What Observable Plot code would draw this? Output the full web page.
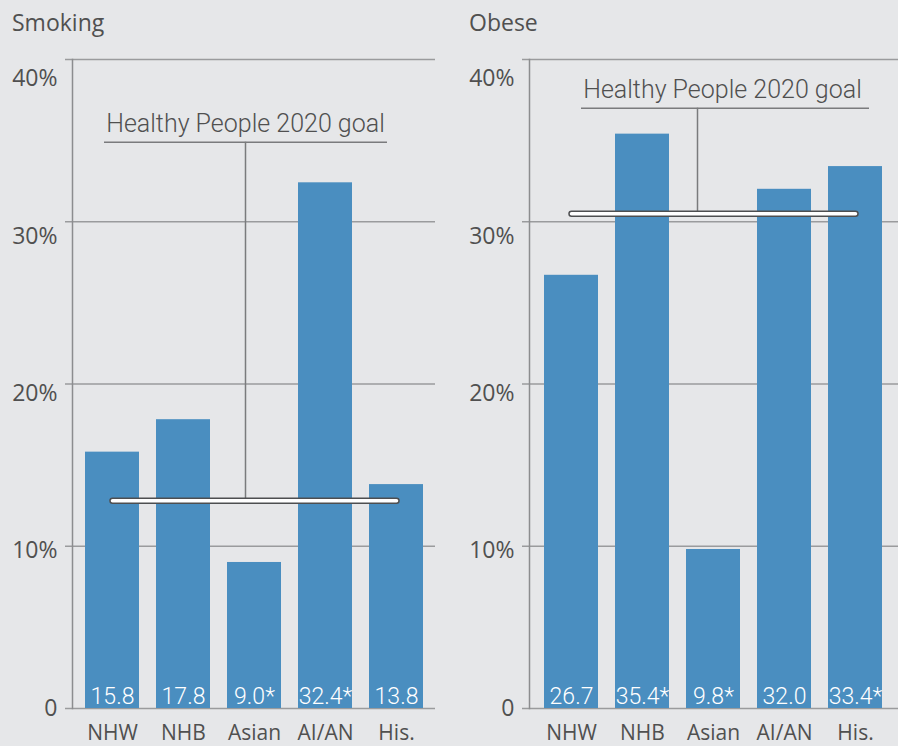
<!DOCTYPE html>
<html><head><meta charset="utf-8">
<script src="https://cdn.jsdelivr.net/npm/d3@7"></script>
<script src="https://cdn.jsdelivr.net/npm/@observablehq/plot@0.6"></script>
<style>
html,body{margin:0;padding:0;background:#e6e7e9;}
#wrap{position:relative;width:898px;height:746px;overflow:hidden;font-family:"Open Sans",sans-serif;}
.panel{position:absolute;top:0;width:449px;height:746px;}
.title{position:absolute;top:6px;font-size:23px;color:#505050;line-height:normal;}
.panel svg{position:absolute;top:40px;left:0;}
</style></head><body><div id="wrap"></div>
<script>
const groups = ["NHW", "NHB", "Asian", "AI/AN", "His."];
const smokingValues = [15.8, 17.8, 9.0, 32.4, 13.8];
const smokingLabels = ["15.8", "17.8", "9.0*", "32.4*", "13.8"];
const obeseValues = [26.7, 35.4, 9.8, 32.0, 33.4];
const obeseLabels = ["26.7", "35.4*", "9.8*", "32.0", "33.4*"];
const panelTitles = ["Smoking", "Obese"];
const goalValues = [12.8, 30.5];
const goalText = "Healthy People 2020 goal";
const yTicks = [0, 10, 20, 30, 40];

const TEXT = "#505050";
const GRID = "#9a9b9d";
const BAR = "#4a8ec0";

function panel(cfg) {
  const data = groups.map((g, i) => ({group: g, value: cfg.values[i], label: cfg.labels[i]}));
  const goalData = [{group: groups[0], y: cfg.goal}, {group: groups[groups.length - 1], y: cfg.goal}];
  const annoData = [{group: groups[2], text: goalText}];
  return Plot.plot({
    width: 449, height: 706,
    marginTop: 19, marginBottom: 38, marginLeft: cfg.marginLeft, marginRight: cfg.marginRight,
    style: {background: "transparent", fontFamily: "Open Sans", color: TEXT, overflow: "visible"},
    x: {domain: groups, paddingInner: 0.24, paddingOuter: cfg.paddingOuter, axis: null},
    y: {domain: [0, 40], axis: null},
    marks: [
      Plot.ruleY(yTicks, {stroke: GRID, strokeWidth: 1.5, insetLeft: -7, insetRight: -cfg.gridExtend}),
      Plot.frame({anchor: "left", stroke: "#8c8d8f", strokeWidth: 1.5}),
      Plot.barY(data, {x: "group", y: "value", fill: BAR}),
      Plot.text(data, {x: "group", y: 0, text: "label", fill: "white", fontSize: 23, fontWeight: 300, fontFamily: "Roboto", lineAnchor: "bottom", dy: -5}),
      Plot.ruleX(annoData, {x: "group", y1: cfg.goal, y2: cfg.annoY, stroke: "#7a7b7d", strokeWidth: 1.5, dx: cfg.stemDx}),
      Plot.ruleY([cfg.annoY], {stroke: "#7a7b7d", strokeWidth: 1.5, insetLeft: cfg.annoInsetL, insetRight: cfg.annoInsetR}),
      Plot.text(annoData, {x: "group", y: cfg.annoY, text: "text", dx: cfg.textDx, dy: -10, lineAnchor: "bottom", fontSize: 25, fontWeight: 300, fontFamily: "Roboto", fill: TEXT}),
      Plot.line(goalData, {x: "group", y: "y", stroke: "#4d4e50", strokeWidth: 6.5, strokeLinecap: "round"}),
      Plot.line(goalData, {x: "group", y: "y", stroke: "white", strokeWidth: 3.5, strokeLinecap: "round"}),
      Plot.text(yTicks, {y: d => d * 0.97, text: d => d === 0 ? "0" : d + "%", frameAnchor: "left", textAnchor: "end", dx: -15, fontSize: 23, fill: TEXT}),
      Plot.text(groups, {x: d => d, frameAnchor: "bottom", lineAnchor: "top", dy: 17, fontSize: 21, fill: TEXT})
    ]
  });
}

const configs = [
  {title: panelTitles[0], values: smokingValues, labels: smokingLabels, goal: goalValues[0],
   annoY: 34.9, annoInsetL: 32, annoInsetR: 48, stemDx: -9, textDx: -9, paddingOuter: 0.175,
   marginLeft: 72, marginRight: 14, gridExtend: 0, left: 0, titleLeft: 12},
  {title: panelTitles[1], values: obeseValues, labels: obeseLabels, goal: goalValues[1],
   annoY: 37, annoInsetL: 52, annoInsetR: 27, stemDx: -16, textDx: 9, paddingOuter: 0.2,
   marginLeft: 80, marginRight: 2, gridExtend: 2, left: 449, titleLeft: 20}
];

const wrap = document.getElementById("wrap");
for (const cfg of configs) {
  const div = document.createElement("div");
  div.className = "panel";
  div.style.left = cfg.left + "px";
  const t = document.createElement("div");
  t.className = "title";
  t.style.left = cfg.titleLeft + "px";
  t.textContent = cfg.title;
  div.appendChild(t);
  div.appendChild(panel(cfg));
  wrap.appendChild(div);
}
</script>
</body></html>
